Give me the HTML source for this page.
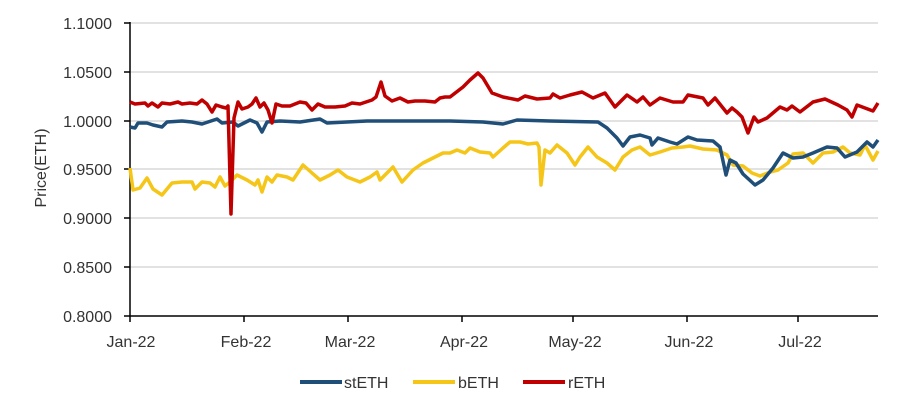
<!DOCTYPE html>
<html><head><style>
body{margin:0;background:#fff;}
text{font-family:"Liberation Sans",sans-serif;fill:#333;}
</style></head><body>
<svg width="902" height="412" xmlns="http://www.w3.org/2000/svg">
<g stroke="#d9d9d9" stroke-width="1.5">
<line x1="130" x2="878" y1="23" y2="23"/><line x1="130" x2="878" y1="72" y2="72"/>
<line x1="130" x2="878" y1="121" y2="121"/><line x1="130" x2="878" y1="169" y2="169"/>
<line x1="130" x2="878" y1="218" y2="218"/><line x1="130" x2="878" y1="267" y2="267"/>
</g>
<g stroke="#000" stroke-width="1.5">
<line x1="130" x2="130" y1="22" y2="322"/><line x1="124" x2="878" y1="316" y2="316"/>
<line x1="124" x2="130" y1="23" y2="23"/><line x1="124" x2="130" y1="72" y2="72"/><line x1="124" x2="130" y1="121" y2="121"/><line x1="124" x2="130" y1="169" y2="169"/><line x1="124" x2="130" y1="218" y2="218"/><line x1="124" x2="130" y1="267" y2="267"/>
<line x1="244" x2="244" y1="316" y2="322"/><line x1="348" x2="348" y1="316" y2="322"/><line x1="462" x2="462" y1="316" y2="322"/><line x1="573" x2="573" y1="316" y2="322"/><line x1="687" x2="687" y1="316" y2="322"/><line x1="798" x2="798" y1="316" y2="322"/>
</g>
<g font-size="16" text-anchor="end">
<text x="112" y="29">1.1000</text><text x="112" y="78">1.0500</text><text x="112" y="127">1.0000</text><text x="112" y="175">0.9500</text><text x="112" y="224">0.9000</text><text x="112" y="273">0.8500</text><text x="112" y="322">0.8000</text>
</g>
<g font-size="16" text-anchor="middle">
<text x="131" y="347">Jan-22</text><text x="246" y="347">Feb-22</text><text x="350" y="347">Mar-22</text><text x="464" y="347">Apr-22</text><text x="575" y="347">May-22</text><text x="689" y="347">Jun-22</text><text x="800" y="347">Jul-22</text>
</g>
<text font-size="16" text-anchor="middle" transform="translate(46,168) rotate(-90)">Price(ETH)</text>
<g fill="none" stroke-width="3.5" stroke-linejoin="round">
<polyline stroke="#f5c518" points="130,168 133,190 140,188 147,178 153,189 162,195 172,183 182,182 192,182 195,189 202,182 210,183 215,187 220,177 225,186 230,182 237,175 247,180 255,185 258,180 262,192 267,177 272,182 277,175 287,177 293,180 303,165 312,173 320,180 330,175 338,170 347,177 360,182 370,177 377,172 380,180 387,173 393,167 402,182 413,170 423,163 433,158 443,153 450,153 457,150 465,153 470,148 480,152 490,153 493,157 503,148 510,142 520,142 528,144 537,143 539,147 541,185 545,150 550,153 557,145 567,153 575,165 580,157 588,147 597,157 607,163 615,170 623,157 632,150 640,147 650,155 660,152 672,148 683,147 690,146 703,149 717,150 727,155 733,165 743,166 752,173 760,176 770,172 778,170 788,163 793,154 803,153 813,163 823,153 833,152 843,147 850,153 860,155 865,145 873,160 878,151"/>
<polyline stroke="#1f4e79" points="130,127 135,128 138,123 147,123 153,125 162,127 167,122 182,121 192,122 202,124 217,119 222,123 233,122 238,126 250,120 257,123 262,132 267,122 280,121 300,122 320,119 327,123 367,121 450,121 483,122 503,124 517,120 550,121 598,122 607,128 617,138 623,146 630,137 640,135 650,138 652,145 658,138 670,142 677,144 688,137 697,140 713,141 720,147 726,175 730,160 736,163 743,174 755,185 763,180 773,168 783,153 793,158 803,157 813,153 827,147 837,148 845,157 857,152 867,142 873,147 878,140"/>
<polyline stroke="#c00000" points="130,102 135,104 145,103 148,106 152,103 158,107 162,103 170,104 178,102 182,104 190,103 197,104 202,100 207,104 212,112 216,105 222,107 226,108 228,106 231,214 234,118 238,102 242,109 248,107 252,104 256,98 260,107 264,103 268,110 272,123 276,104 282,106 290,106 300,102 306,103 312,110 318,104 325,107 335,107 345,106 352,103 360,104 366,102 372,100 376,97 381,82 385,96 392,101 400,98 408,102 415,101 425,101 435,102 440,98 445,97 450,97 463,87 470,80 478,73 483,78 492,93 503,97 518,100 525,96 537,99 550,98 553,94 560,98 570,95 582,92 593,98 605,93 615,107 627,95 637,102 643,97 650,105 660,98 673,102 683,102 688,95 703,98 708,105 715,98 727,113 732,108 737,112 742,117 748,133 754,117 758,122 767,118 780,107 787,110 792,106 800,112 813,102 825,99 838,105 847,110 852,117 857,105 865,108 873,111 878,103"/>
</g>
<g stroke-width="4">
<line x1="300" x2="342" y1="382" y2="382" stroke="#1f4e79"/>
<line x1="413" x2="455" y1="382" y2="382" stroke="#f5c518"/>
<line x1="523" x2="565" y1="382" y2="382" stroke="#c00000"/>
</g>
<g font-size="16">
<text x="344" y="388">stETH</text><text x="458" y="388">bETH</text><text x="568" y="388">rETH</text>
</g>
</svg>
</body></html>
